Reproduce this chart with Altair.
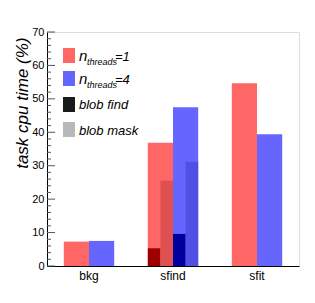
import altair as alt
import pandas as pd

categories = ["bkg", "sfind", "sfit"]
cpu_t1 = [7.3, 36.9, 54.7]
cpu_t4 = [7.5, 47.5, 39.4]
blob_cat = "sfind"
blob_find = [5.3, 9.6]   # nthreads=1, nthreads=4
blob_mask = [25.5, 31.2]
major_ticks = [0, 10, 20, 30, 40, 50, 60, 70]
minor_ticks = [v for v in range(0, 71, 2) if v % 10 != 0]

FONT = "Liberation Sans"
X0, Y0 = 47, 32  # plot origin (page coords) for legend placement

main = pd.DataFrame(
    [{"cat": c, "series": "t1", "value": v} for c, v in zip(categories, cpu_t1)]
    + [{"cat": c, "series": "t4", "value": v} for c, v in zip(categories, cpu_t4)]
)
blob = pd.DataFrame([
    {"cat": blob_cat, "series": "r_find", "value": blob_find[0]},
    {"cat": blob_cat, "series": "r_mask", "value": blob_mask[0]},
    {"cat": blob_cat, "series": "b_find", "value": blob_find[1]},
    {"cat": blob_cat, "series": "b_mask", "value": blob_mask[1]},
])

color_scale = alt.Scale(
    domain=["t1", "t4", "r_find", "r_mask", "b_find", "b_mask"],
    range=["#ff6666", "#6666ff", "#9e0000", "#e05050", "#00009e", "#5050e4"],
)
yscale = alt.Scale(domain=[0, 70], nice=False, zero=True)
xscale = alt.Scale(domain=categories, paddingInner=0, paddingOuter=0)

x_axis = alt.Axis(
    title=None, labelAngle=0, ticks=False, labelFontSize=12, labelPadding=4,
    domainColor="black", labelColor="black", labelFont=FONT, grid=False)
y_axis = alt.Axis(
    title="task cpu time (%)", values=major_ticks, ticks=False, grid=False,
    labelOverlap=False, labelFlush=False,
    labelFontSize=11, labelPadding=3, labelFont=FONT, labelColor="black",
    domainColor="black", titleFont=FONT, titleFontSize=17,
    titleFontStyle="italic", titleFontWeight="normal", titleAngle=270,
    titleAlign="right", titleBaseline="alphabetic", titleX=-20, titleY=5,
    titleColor="black")

bars = alt.Chart(main).mark_bar(opacity=1).encode(
    x=alt.X("cat:N", scale=xscale, axis=x_axis),
    y=alt.Y("value:Q", scale=yscale, axis=y_axis),
    xOffset=alt.XOffset("series:N", scale=alt.Scale(domain=["t1", "t4"], paddingInner=0, paddingOuter=2 / 3)),
    color=alt.Color("series:N", scale=color_scale, legend=None),
)
blobs = alt.Chart(blob).mark_bar(opacity=1).encode(
    x=alt.X("cat:N", scale=xscale, axis=x_axis),
    y=alt.Y("value:Q", scale=yscale, axis=y_axis),
    xOffset=alt.XOffset("series:N", scale=alt.Scale(
        domain=["_l", "r_find", "r_mask", "b_find", "b_mask", "_r"], paddingInner=0, paddingOuter=1 / 3)),
    color=alt.Color("series:N", scale=color_scale, legend=None),
)

major = alt.Chart(pd.DataFrame({"value": major_ticks})).mark_rule(color="#555", strokeWidth=1).encode(
    y=alt.Y("value:Q", scale=yscale, axis=y_axis), x=alt.value(0), x2=alt.value(8))
minor = alt.Chart(pd.DataFrame({"value": minor_ticks})).mark_rule(color="#555", strokeWidth=1).encode(
    y=alt.Y("value:Q", scale=yscale, axis=y_axis), x=alt.value(0), x2=alt.value(4))

# manual legend
legend_boxes = [
    (48, 63, "#ff6666"),
    (71, 86, "#6666ff"),
    (97, 112, "#1a1a1a"),
    (122, 137, "#b8b8b8"),
]
one = pd.DataFrame({"k": [0]})
legend_layers = []
for top, bot, col in legend_boxes:
    legend_layers.append(alt.Chart(one).mark_rect(color=col).encode(
        x=alt.value(63 - X0), x2=alt.value(75 - X0),
        y=alt.value(top - Y0), y2=alt.value(bot - Y0)))


def txt(s, x, y, size):
    return alt.Chart(pd.DataFrame({"t": [s]})).mark_text(
        font=FONT, fontStyle="italic", fontSize=size, align="left",
        baseline="alphabetic", color="black").encode(
        text="t:N", x=alt.value(x - X0), y=alt.value(y - Y0))


for base, lab in [(61, "=1"), (84, "=4")]:
    legend_layers.append(txt("n", 79, base, 15))
    legend_layers.append(txt("threads", 87, base + 4, 9))
    legend_layers.append(txt(lab, 115, base, 13))
legend_layers.append(txt("blob find", 79, 109, 13))
legend_layers.append(txt("blob mask", 79, 135, 13))

chart = alt.layer(bars, blobs, major, minor, *legend_layers).resolve_scale(
    xOffset="independent"
).properties(
    width=252, height=234,
    autosize=alt.AutoSizeParams(type="none"),
    padding={"left": 39, "top": 24, "right": 8, "bottom": 29},
).configure_view(stroke="#999", strokeWidth=1).configure_axis(
    labelOverlap=False
).configure(font=FONT)

chart.save("out.html", embed_options={"renderer": "svg", "actions": False})
